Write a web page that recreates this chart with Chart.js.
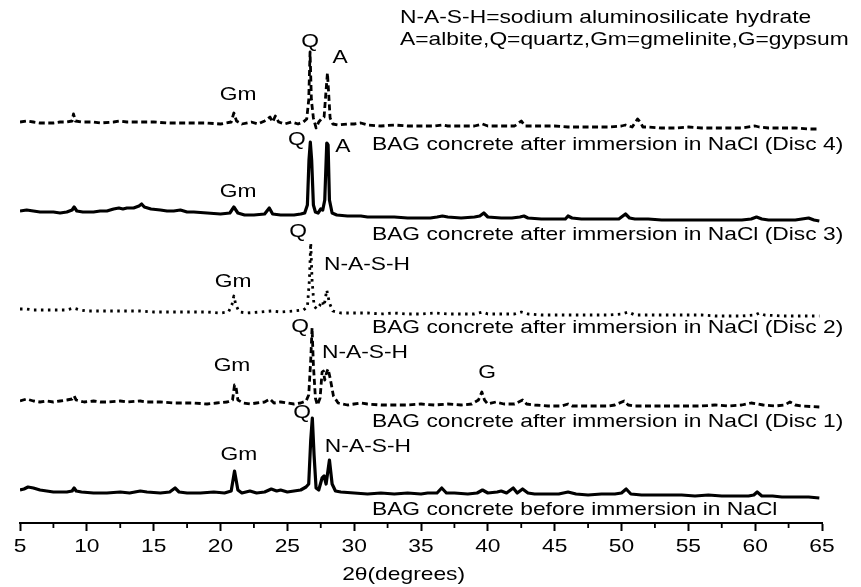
<!DOCTYPE html>
<html>
<head>
<meta charset="utf-8">
<script src="https://cdn.jsdelivr.net/npm/chart.js@4.4.1/dist/chart.umd.min.js"></script>
<style>
  html, body { margin: 0; padding: 0; background: #fff; }
  #xrd { display: block; }
</style>
</head>
<body>
<canvas id="xrd" width="861" height="587"></canvas>
<script>
// 2-theta positions (degrees) and intensities (arbitrary units)
const beforeAngle = [5.0,5.3,5.6,6.0,6.5,7.0,7.5,8.0,8.5,8.9,9.05,9.2,9.6,10.5,11.5,12.5,13.2,14.0,14.5,15.5,16.2,16.6,16.9,17.5,18.5,19.5,20.3,20.8,21.05,21.3,21.6,22.2,22.7,23.3,23.8,24.2,24.5,25.0,25.5,26.0,26.4,26.6,26.75,26.87,27.0,27.15,27.35,27.6,27.75,27.9,28.15,28.35,28.6,29.0,30,31,32,33,34,35,35.5,36.2,36.55,36.9,37.5,38.5,39.2,39.6,40.0,40.7,41.0,41.4,41.9,42.2,42.6,43.0,43.5,44.5,45.3,46.0,46.6,47.5,48.5,49.5,50.0,50.35,50.7,51.5,52.5,53.5,54.5,55.5,56.5,57.5,58.5,59.5,59.9,60.15,60.5,61.3,62,63,64,64.8];
const beforeCounts = [10,11,13,12,10,9,8,8,8,9,12,9,8,7,7,8,7,9,8,7,8,12,8,7,7,8,7,9,29,10,7,9,7,8,11,9,10,8,9,10,13,16,60,82,45,12,10,22,24,16,40,16,9,8,7,6,7,6,7,6,7,7,12,7,7,6,7,10,7,8,9,7,12,7,11,7,6,6,6,8,6,5,6,6,7,11,6,5,5,5,5,4,5,4,4,4,5,8,4,4,3,3,3,2];

const disc1Angle = [5.0,5.5,6.0,6.5,7.0,7.5,8.0,8.5,8.9,9.05,9.2,9.8,10.5,11,11.5,12.5,13,14,14.5,15.5,16.5,17,18,19,19.7,20.5,20.9,21.05,21.15,21.3,21.7,22.2,22.7,23.3,23.7,24.0,24.5,25.0,25.5,26.0,26.4,26.6,26.75,26.85,26.95,27.1,27.25,27.45,27.6,27.7,27.8,27.95,28.05,28.2,28.45,28.8,29.5,30,30.5,31,32,33,34,35,36,37,38,38.8,39.3,39.55,39.75,40,40.6,41.2,42,42.6,42.9,43.5,44.5,45.5,46.0,46.3,47,48,49,49.5,50.2,50.5,51,52,53,54,55,56,57,58,59,59.7,60.2,60.6,61.5,62.2,62.6,63.0,63.5,64.8];
const disc1Counts = [11,13,11,10,11,10,11,12,13,16,12,10,11,10,10,11,10,11,10,10,9,9,9,8,9,10,12,27,26,12,9,8,9,10,13,9,10,9,8,9,11,17,52,84,47,14,7,14,40,41,32,40,43,34,16,9,7,8,9,8,7,7,7,8,7,8,7,8,12,20,12,8,10,8,8,12,8,7,6,6,8,6,6,6,6,7,11,7,6,6,6,6,6,6,7,6,7,9,8,7,6,7,10,7,6,5];

const disc2Angle = [5.0,5.5,6,7,8,8.5,9,9.5,10,11,12,13,14,15,16,17,18,19,20,20.6,20.85,21.0,21.15,21.4,22,23,23.8,24.5,25.5,26.2,26.5,26.65,26.75,26.85,27.0,27.2,27.4,27.6,27.75,27.95,28.15,28.4,29,30,31,32,33,34,35,36,37,38,39,39.6,40,41,42,42.5,43,44,45,46,47,48,49,50,50.5,51,52,53,54,55,56,57,58,59,60,60.3,60.7,62,63,64.8];
const disc2Counts = [12,12,11,11,11,11,13,11,10,10,10,10,10,9,9,9,9,9,8,9,16,25,16,9,8,9,10,9,10,11,14,41,78,41,15,12,15,20,15,31,18,10,8,8,8,7,8,7,7,8,7,7,7,9,7,7,7,9,7,6,6,6,6,6,6,7,9,6,6,6,6,6,6,5,5,5,6,8,6,5,5,5];

const disc3Angle = [5.0,5.5,6.0,6.5,7,7.5,8,8.5,8.9,9.05,9.25,9.7,10.5,11,11.5,12,12.4,12.7,13.0,13.5,13.9,14.1,14.3,14.8,15.5,16,16.5,17,17.5,18,19,20,20.7,21.0,21.3,21.8,22.5,23.3,23.65,23.9,24.5,25,25.5,26,26.3,26.5,26.62,26.72,26.82,26.95,27.1,27.3,27.5,27.65,27.8,27.95,28.05,28.15,28.35,28.7,29.5,30.5,31,32,33,34,35,35.7,36.2,36.6,37,38,39,39.4,39.7,40,41,41.8,42.4,42.7,43,44,45,45.8,46.0,46.3,47,48,49,49.8,50.3,50.6,51,52,53,54,55,56,57,58,59,59.7,60.1,60.5,61,62,63,63.5,64,64.4,64.8];
const disc3Counts = [10,11,10,9,9,9,8,9,11,14,10,9,9,10,10,12,13,12,13,13,15,17,14,12,11,10,10,11,9,9,8,7,8,14,8,6,6,7,13,7,6,6,6,7,8,16,61,79,61,16,9,8,12,11,21,78,76,21,8,6,5,5,4,4,4,3,3,3,4,5,4,3,4,5,8,4,3,3,4,5,3,2,2,2,5,3,2,2,2,2,7,3,2,2,1,1,1,1,1,1,1,2,4,2,1,1,1,2,3,1,0];

const disc4Angle = [5.0,5.5,6.0,6.5,7,7.5,8,8.5,8.9,9.0,9.15,9.6,10.5,11,12,12.5,13,14,15,16,17,18,19,20,20.8,21.0,21.2,21.6,22.3,22.8,23.3,23.7,23.9,24.1,24.35,24.8,25.3,25.8,26.2,26.45,26.6,26.7,26.8,26.95,27.15,27.35,27.6,27.75,27.9,28.0,28.1,28.2,28.4,28.8,29.5,30,30.5,31,32,33,34,35,36,36.6,37,38,39,39.6,40,41,42,42.5,42.8,43.5,44,45,46,47,48,49,50,50.3,50.8,51.2,51.4,51.6,52,53,54,55,56,57,58,59,60,60.3,61,62,63,64,64.8];
const disc4Counts = [10,11,10,9,9,9,10,10,11,18,11,10,10,9,10,11,10,10,10,9,9,9,9,8,10,19,11,8,10,8,11,15,10,16,10,8,10,8,10,13,32,80,32,14,4,10,14,15,42,59,37,14,8,7,8,8,9,7,6,7,6,6,6,7,6,6,6,8,6,6,6,11,6,6,6,6,5,5,5,5,6,7,5,13,10,5,5,4,4,5,4,4,4,4,6,5,4,4,4,3,3];

const seriesNames = [
  'BAG concrete before immersion in NaCl',
  'BAG concrete after immersion in NaCl (Disc 1)',
  'BAG concrete after immersion in NaCl (Disc 2)',
  'BAG concrete after immersion in NaCl (Disc 3)',
  'BAG concrete after immersion in NaCl (Disc 4)'
];
const seriesAngles = [beforeAngle, disc1Angle, disc2Angle, disc3Angle, disc4Angle];
const seriesCounts = [beforeCounts, disc1Counts, disc2Counts, disc3Counts, disc4Counts];

// vertical stacking of the patterns
const stackOffsets = [23, 111, 202, 302, 391];

const xTicks = [5, 10, 15, 20, 25, 30, 35, 40, 45, 50, 55, 60, 65];
const xTitle = '2θ(degrees)';
const legendLines = [
  'N-A-S-H=sodium aluminosilicate hydrate',
  'A=albite,Q=quartz,Gm=gmelinite,G=gypsum'
];

// phase labels: [text, 2theta, height]
const peakLabels = [
  ['Q', 26.70, 481], ['A', 28.94, 465], ['Gm', 21.31, 428],
  ['Q', 25.72, 383], ['A', 29.16, 376], ['Gm', 21.31, 331],
  ['Q', 25.80, 291], ['N-A-S-H', 30.96, 258], ['Gm', 20.94, 241],
  ['Q', 25.95, 196], ['N-A-S-H', 30.81, 170], ['Gm', 20.86, 157], ['G', 39.94, 150],
  ['Q', 26.10, 110], ['N-A-S-H', 31.03, 76], ['Gm', 21.38, 68]
];
const nameHeights = [13, 101, 195, 288, 378];

const lineStyles = [
  { width: 3.2, dash: [] },
  { width: 2.8, dash: [6, 3.5] },
  { width: 2.8, dash: [2.5, 4.5] },
  { width: 3.2, dash: [] },
  { width: 2.8, dash: [6, 3.5] }
];

const FONT = '19px "Liberation Sans", Arial, sans-serif';
const STRETCH = 1.2;

function stretchedText(ctx, text, x, y, align) {
    ctx.save();
    ctx.translate(x, y);
    ctx.scale(STRETCH, 1);
    ctx.font = FONT;
    ctx.fillStyle = '#000';
    ctx.textAlign = align;
    ctx.textBaseline = 'middle';
    ctx.fillText(text, 0, 0);
    ctx.restore();
}

// draws minor ticks, tick labels and all the text annotations
const textPlugin = {
    id: 'xrdText',
    afterDraw(chart) {
        const ctx = chart.ctx;
        const xs = chart.scales.x;
        const ys = chart.scales.y;
        const bottom = chart.chartArea.bottom;

        // minor ticks
        ctx.save();
        ctx.strokeStyle = '#000';
        ctx.lineWidth = 1.8;
        for (let v = 7.5; v < 65; v += 5) {
            const px = xs.getPixelForValue(v);
            ctx.beginPath();
            ctx.moveTo(px, bottom);
            ctx.lineTo(px, bottom + 5);
            ctx.stroke();
        }
        ctx.restore();

        xTicks.forEach(v => stretchedText(ctx, String(v), xs.getPixelForValue(v), bottom + 24, 'center'));
        stretchedText(ctx, xTitle, xs.getPixelForValue(33.7), bottom + 52, 'center');

        legendLines.forEach((t, i) => stretchedText(ctx, t, xs.getPixelForValue(33.43), ys.getPixelForValue(505 - i * 22), 'left'));
        seriesNames.forEach((t, i) => stretchedText(ctx, t, xs.getPixelForValue(31.33), ys.getPixelForValue(nameHeights[i]), 'left'));
        peakLabels.forEach(([t, a, h]) => stretchedText(ctx, t, xs.getPixelForValue(a), ys.getPixelForValue(h), 'center'));
    }
};

const datasets = seriesNames.map((name, i) => ({
    label: name,
    data: seriesAngles[i].map((a, j) => ({ x: a, y: seriesCounts[i][j] + stackOffsets[i] })),
    borderColor: '#000',
    borderWidth: lineStyles[i].width,
    borderDash: lineStyles[i].dash,
    borderJoinStyle: 'round',
    pointRadius: 0,
    tension: 0,
    fill: false
}));

new Chart(document.getElementById('xrd'), {
    type: 'line',
    data: { datasets },
    options: {
        responsive: false,
        animation: false,
        devicePixelRatio: 1,
        layout: { padding: { left: 20, right: 39, top: 0, bottom: 56 } },
        plugins: { legend: { display: false }, tooltip: { enabled: false } },
        scales: {
            x: {
                type: 'linear',
                min: 5,
                max: 65,
                border: { display: true, color: '#000', width: 2 },
                grid: { drawOnChartArea: false, drawTicks: true, tickLength: 8, tickColor: '#000', tickWidth: 2 },
                ticks: { display: false, stepSize: 5 },
                title: { display: false }
            },
            y: {
                display: false,
                min: 0,
                max: 523
            }
        }
    },
    plugins: [textPlugin]
});
</script>
</body>
</html>
